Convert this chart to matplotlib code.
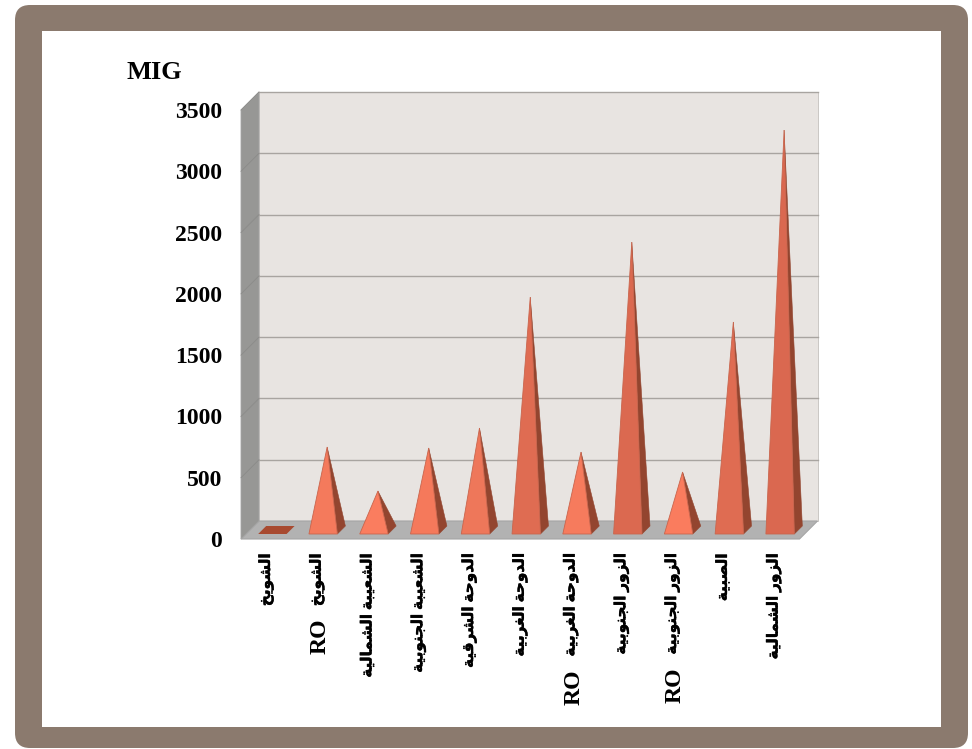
#!/usr/bin/env python3
"""Pseudo-3D pyramid chart of MIG per plant, drawn on a framed page."""

import matplotlib.patheffects as pe
import matplotlib.pyplot as plt
from matplotlib.patches import FancyBboxPatch, Polygon, Rectangle

plants = [
    "الشويخ",
    "الشويخ RO",
    "الشعيبة الشمالية",
    "الشعيبة الجنوبية",
    "الدوحة الشرقية",
    "الدوحة الغربية",
    "الدوحة الغربية RO",
    "الزور الجنوبية",
    "الزور الجنوبية RO",
    "الصبية",
    "الزور الشمالية",
]
mig = [0, 677, 318, 669, 832, 1900, 636, 2349, 473, 1697, 3263]
y_ticks = [0, 500, 1000, 1500, 2000, 2500, 3000, 3500]
front_colors = [
    "#a84a30", "#f47a5c", "#fa7d5f", "#f5795b", "#ee775a", "#df6c52",
    "#f67b5d", "#db6950", "#fa7c5e", "#df6c52", "#da6850",
]

# Arabic letters -> presentation forms (isolated, final, initial, medial)
FORMS = {
    "ا": (0xFE8D, 0xFE8E), "ب": (0xFE8F, 0xFE90, 0xFE91, 0xFE92),
    "ة": (0xFE93, 0xFE94), "ج": (0xFE9D, 0xFE9E, 0xFE9F, 0xFEA0),
    "ح": (0xFEA1, 0xFEA2, 0xFEA3, 0xFEA4), "خ": (0xFEA5, 0xFEA6, 0xFEA7, 0xFEA8),
    "د": (0xFEA9, 0xFEAA), "ر": (0xFEAD, 0xFEAE), "ز": (0xFEAF, 0xFEB0),
    "ش": (0xFEB5, 0xFEB6, 0xFEB7, 0xFEB8), "ص": (0xFEB9, 0xFEBA, 0xFEBB, 0xFEBC),
    "ع": (0xFEC9, 0xFECA, 0xFECB, 0xFECC), "غ": (0xFECD, 0xFECE, 0xFECF, 0xFED0),
    "ق": (0xFED5, 0xFED6, 0xFED7, 0xFED8), "ل": (0xFEDD, 0xFEDE, 0xFEDF, 0xFEE0),
    "م": (0xFEE1, 0xFEE2, 0xFEE3, 0xFEE4), "ن": (0xFEE5, 0xFEE6, 0xFEE7, 0xFEE8),
    "و": (0xFEED, 0xFEEE), "ي": (0xFEF1, 0xFEF2, 0xFEF3, 0xFEF4),
}


def shape_word(word: str) -> str:
    """Join one Arabic word and return it in visual (left to right) order."""
    out = []
    for i, ch in enumerate(word):
        forms = FORMS[ch]
        joins_prev = i > 0 and len(FORMS[word[i - 1]]) == 4
        joins_next = i < len(word) - 1 and len(forms) == 4
        if joins_prev and joins_next:
            out.append(forms[3])
        elif joins_prev:
            out.append(forms[1])
        elif joins_next:
            out.append(forms[2])
        else:
            out.append(forms[0])
    return "".join(chr(c) for c in reversed(out))


def shape_label(label: str) -> str:
    return " ".join(shape_word(w) for w in reversed(label.split(" ")))


W, H = 972, 749
fig = plt.figure(figsize=(W / 100, H / 100), dpi=100, facecolor="white")
plt.rcParams["font.family"] = ["Liberation Serif", "DejaVu Sans"]

# Page frame, in pixel coordinates
page = fig.add_axes([0, 0, 1, 1], zorder=0)
page.set_xlim(0, W)
page.set_ylim(H, 0)
page.axis("off")
page.add_patch(
    FancyBboxPatch(
        (30, 20), 923, 713, boxstyle="round,pad=15,rounding_size=15",
        facecolor="#8b7a6e", edgecolor="none",
    )
)
page.add_patch(Rectangle((42, 31), 899, 696, facecolor="white", edgecolor="none"))
page.text(126, 72.5, "MIG", fontsize=19, fontweight="bold", va="center", ha="left")

# Main axes sit on the front plane of the box
left, right, top, bottom = 241, 799.5, 110, 539
ax = fig.add_axes(
    [left / W, 1 - bottom / H, (right - left) / W, (bottom - top) / H], zorder=1
)
ax.set_xlim(0, len(plants))
ax.set_ylim(0, 3500)
ax.patch.set_visible(False)
for spine in ax.spines.values():
    spine.set_visible(False)

# Depth of the box in data units
n = len(plants)
px_x = n / (right - left)
depth_x = 18 * px_x
depth_y = 18 / (bottom - top) * 3500

ax.add_patch(Polygon(
    [(depth_x, depth_y), (n + depth_x, depth_y), (n + depth_x, 3500 + depth_y),
     (depth_x, 3500 + depth_y)],
    facecolor="#e8e4e1", edgecolor="#c4c0bd", linewidth=0.6, clip_on=False, zorder=1,
))
ax.add_patch(Polygon(
    [(0, 0), (n, 0), (n + depth_x, depth_y), (depth_x, depth_y)],
    facecolor="#b2b2b2", edgecolor="#a5a5a5", linewidth=0.8, clip_on=False, zorder=2,
))
ax.add_patch(Polygon(
    [(0, 0), (depth_x, depth_y), (depth_x, 3500 + depth_y), (0, 3500)],
    facecolor="#979795", edgecolor="#a5a5a5", linewidth=0.6, clip_on=False, zorder=2,
))

for tick in y_ticks[1:]:
    ax.plot([depth_x, n + depth_x], [tick + depth_y] * 2, color="#a8a4a0",
            linewidth=1.0, clip_on=False, zorder=3)
    ax.plot([0, depth_x], [tick, tick + depth_y], color="#8b8b89",
            linewidth=0.6, clip_on=False, zorder=3)

# Pyramids: base takes part of the category slot and part of the box depth
base_width = 0.56
near, far = 5 / 18, 13 / 18
for i, (value, color) in enumerate(zip(mig, front_colors)):
    center = i + 0.5 + px_x
    x0 = center - base_width / 2 + near * depth_x
    x1 = x0 + base_width
    y0 = near * depth_y
    shift_x = (far - near) * depth_x
    shift_y = (far - near) * depth_y
    apex = (center + (near + far) / 2 * depth_x, value + (near + far) / 2 * depth_y)
    if value == 0:
        ax.add_patch(Polygon(
            [(x0, y0), (x1, y0), (x1 + shift_x, y0 + shift_y), (x0 + shift_x, y0 + shift_y)],
            facecolor=color, edgecolor="none", clip_on=False, zorder=4,
        ))
        continue
    ax.add_patch(Polygon(
        [(x1, y0), (x1 + shift_x, y0 + shift_y), apex],
        facecolor="#93452f", edgecolor="#93452f", linewidth=0.4, clip_on=False, zorder=4,
    ))
    ax.add_patch(Polygon(
        [(x0, y0), (x1, y0), apex],
        facecolor=color, edgecolor="#c9654d", linewidth=0.6, clip_on=False, zorder=5,
    ))

ax.set_yticks(y_ticks)
ax.set_yticklabels([str(t) for t in y_ticks], fontsize=17, fontweight="bold")
ax.tick_params(axis="y", length=0, pad=13.5)
ax.set_xticks([i + 0.5 for i in range(n)])
ax.set_xticklabels(
    [shape_label(p.removesuffix(" RO")) for p in plants], rotation=90, va="top",
    ha="center", fontsize=11, fontweight="bold",
)
ax.tick_params(axis="x", length=0, pad=10.5)

# RO is set larger than the Arabic text, just below its label
for plant, label in zip(plants, ax.get_xticklabels()):
    label.set_path_effects([pe.withStroke(linewidth=0.3, foreground="black")])
    if plant.endswith(" RO"):
        ax.annotate(
            "RO", xy=(0.5, 0), xycoords=label, xytext=(2, -9),
            textcoords="offset points", rotation=90, va="top", ha="center",
            fontsize=17, fontweight="bold", annotation_clip=False,
        )

fig.savefig("out.png", dpi=100, facecolor="white")
plt.close(fig)
